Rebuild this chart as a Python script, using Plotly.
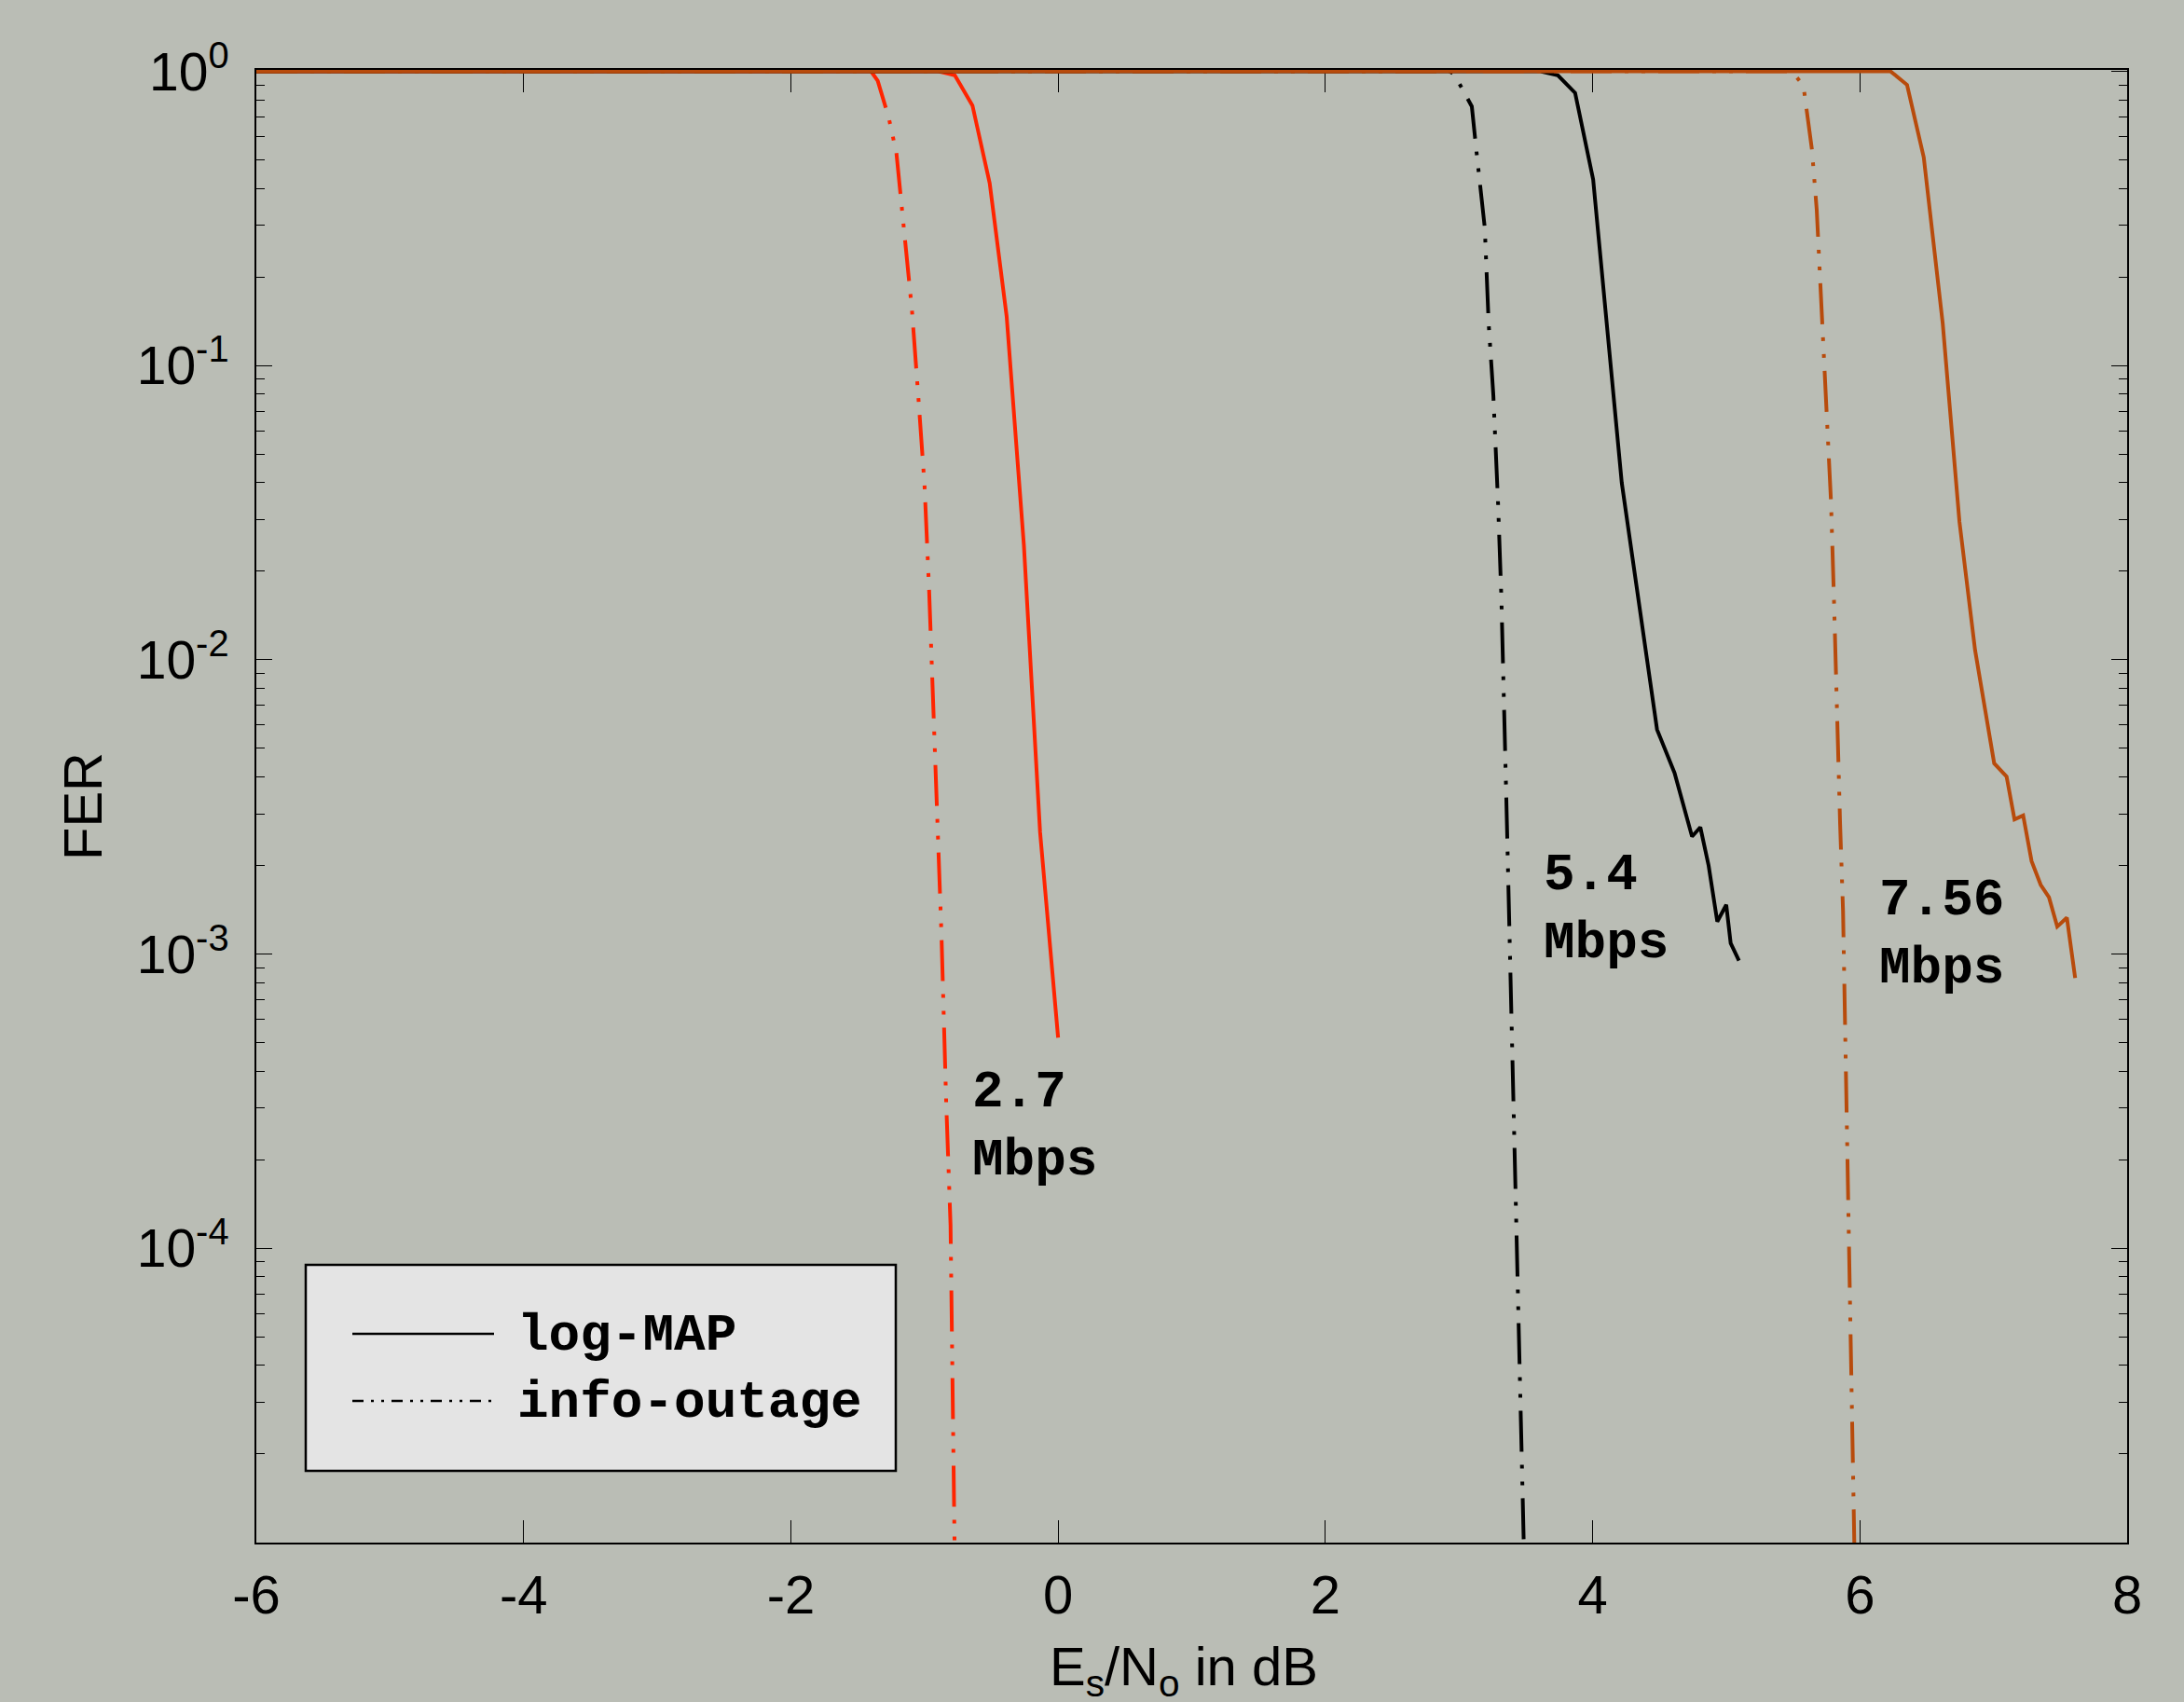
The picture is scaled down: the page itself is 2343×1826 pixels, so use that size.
import math
import plotly.graph_objects as go

# ---------------- data ----------------
x_map_27 = [-6, -0.896, -0.773, -0.641, -0.512, -0.385, -0.256, -0.135, 0.0]
y_map_27 = [1, 1, 0.97, 0.766, 0.417, 0.147, 0.0245, 0.0026, 5.2e-4]

x_out_27 = [-6, -1.40, -1.35, -1.268, -1.21, -1.152, -1.094, -1.047, -1.0, -0.966,
            -0.92, -0.873, -0.838, -0.805, -0.775, -0.765]
y_out_27 = [1, 1, 0.929, 0.698, 0.528, 0.286, 0.155, 0.0794, 0.0395, 0.0176,
            0.00427, 0.00117, 3.18e-4, 1.2e-4, 1e-5, 4e-6]

x_map_54 = [-6, 3.61, 3.74, 3.869, 4.004, 4.218, 4.482, 4.613, 4.744, 4.806,
            4.868, 4.933, 5.0, 5.033, 5.095]
y_map_54 = [1, 1, 0.97, 0.845, 0.429, 0.040, 0.0058, 0.00413, 0.00251, 0.0027,
            0.0020, 0.00129, 0.00147, 0.00109, 9.5e-4]

x_out_54 = [-6, 2.93, 2.965, 3.096, 3.132, 3.193, 3.222, 3.257, 3.292, 3.317,
            3.359, 3.405, 3.452, 3.487, 3.50]
y_out_54 = [1, 1, 0.977, 0.76, 0.528, 0.294, 0.139, 0.0794, 0.0344, 0.0163,
            0.00274, 3.98e-4, 5.71e-5, 1.05e-5, 5e-6]

x_map_756 = [-6, 6.23, 6.353, 6.478, 6.62, 6.745, 6.862, 7.005, 7.098, 7.157,
             7.222, 7.285, 7.353, 7.415, 7.477, 7.549, 7.611]
y_map_756 = [1, 1, 0.90, 0.51, 0.139, 0.0295, 0.0108, 0.00445, 0.00401, 0.00287,
             0.00296, 0.00207, 0.00172, 0.00156, 0.00124, 0.00133, 8.3e-4]

x_out_756 = [-6, 5.49, 5.577, 5.641, 5.677, 5.705, 5.748, 5.784, 5.805, 5.827,
             5.852, 5.874, 5.89, 5.925, 5.96, 5.97]
y_out_756 = [1, 1, 0.897, 0.543, 0.339, 0.183, 0.0794, 0.0344, 0.0167, 0.00646,
             0.00277, 0.0014, 5.75e-4, 1e-4, 1e-5, 5e-6]

x_ticks = [-6, -4, -2, 0, 2, 4, 6, 8]
x_tick_text = ["-6", "-4", "-2", "0", "2", "4", "6", "8"]
y_ticks = [1e-4, 1e-3, 1e-2, 1e-1, 1]
y_tick_text = ["10<sup>-4</sup>", "10<sup>-3</sup>", "10<sup>-2</sup>",
               "10<sup>-1</sup>", "10<sup>0</sup>"]

rate_labels = ["2.7<br>Mbps", "5.4<br>Mbps", "7.56<br>Mbps"]
rate_label_x = [-0.66, 3.62, 6.13]
rate_label_y = [2.6e-4, 1.42e-3, 1.17e-3]

legend_names = ["log-MAP", "info-outage"]

# ---------------- style ----------------
BG = "#babdb5"
RED = "#ff2400"
BLK = "#000000"
ORG = "#b84b0c"
DASHDOT = "44px,14px,4px,14px,4px,14px"
LW = 4
SANS = "Liberation Sans, Arial, Helvetica, sans-serif"
MONO = "Liberation Mono, Courier New, monospace"

W, H = 2343, 1826
L, R, T, B = 275, 61, 75, 171

fig = go.Figure()

def add(x, y, color, dash):
    fig.add_trace(go.Scatter(x=x, y=y, mode="lines",
                             line=dict(color=color, width=LW, dash=dash),
                             showlegend=False, hoverinfo="skip"))

add(x_map_27, y_map_27, RED, "solid")
add(x_out_27, y_out_27, RED, DASHDOT)
add(x_map_54, y_map_54, BLK, "solid")
add(x_out_54, y_out_54, BLK, DASHDOT)
add(x_out_756, y_out_756, ORG, DASHDOT)
add(x_map_756, y_map_756, ORG, "solid")

minor_vals = [k * 10 ** d for d in range(-5, 0) for k in range(2, 10)]

fig.update_xaxes(range=[-6, 8], tickmode="array", tickvals=x_ticks, ticktext=x_tick_text,
                 ticks="inside", ticklen=24, tickwidth=1.2, tickcolor="black",
                 showline=True, linecolor="black", linewidth=2, mirror="ticks",
                 showgrid=False, zeroline=False, layer="below traces",
                 tickfont=dict(family=SANS, size=58, color="black"),
                 ticklabelstandoff=4)
fig.update_yaxes(type="log", range=[-5, 0.005], tickmode="array", tickvals=y_ticks,
                 ticktext=y_tick_text, ticks="inside", ticklen=17, tickwidth=1.2,
                 tickcolor="black", showline=True, linecolor="black", linewidth=2,
                 mirror="ticks", showgrid=False, zeroline=False, layer="below traces",
                 tickfont=dict(family=SANS, size=57, color="black"),
                 ticklabelstandoff=16,
                 minor=dict(tickmode="array", tickvals=minor_vals, ticks="inside",
                            ticklen=9, tickwidth=1.2, tickcolor="black", showgrid=False))

for txt, xx, yy in zip(rate_labels, rate_label_x, rate_label_y):
    fig.add_annotation(x=xx, y=math.log10(yy), yref="y", xref="x",
                       text="<b>" + txt + "</b>",
                       showarrow=False, xanchor="left", yanchor="middle", align="left",
                       font=dict(family=MONO, size=56, color="black"))

# axis titles
pw, ph = W - L - R, H - T - B
def px(xpix):
    return (xpix - L) / pw
def py(ypix):
    return (H - B - ypix) / ph

fig.add_annotation(xref="paper", yref="paper", x=px(88), y=0.5, text="FER",
                   textangle=-90, showarrow=False, xanchor="center", yanchor="middle",
                   font=dict(family=SANS, size=58, color="black"))
fig.add_annotation(xref="paper", yref="paper", x=px(1270), y=py(1792),
                   text="E<sub>s</sub>/N<sub>o</sub> in dB",
                   showarrow=False, xanchor="center", yanchor="middle",
                   font=dict(family=SANS, size=58, color="black"))

# legend box drawn manually
fig.add_shape(type="rect", xref="paper", yref="paper",
              x0=px(328), x1=px(961), y0=py(1578), y1=py(1357),
              line=dict(color="black", width=2.5), fillcolor="#e4e4e4", layer="above")
legend_y = [1431, 1503]
legend_dash = ["solid", "12px,8px,3px,8px,3px,8px"]
for name, ly, dsh in zip(legend_names, legend_y, legend_dash):
    fig.add_shape(type="line", xref="paper", yref="paper", x0=px(378), x1=px(530),
                  y0=py(ly), y1=py(ly), line=dict(color="black", width=2.5, dash=dsh),
                  layer="above")
    fig.add_annotation(xref="paper", yref="paper", x=px(553), y=py(ly + 2),
                       text="<b>" + name + "</b>", showarrow=False,
                       xanchor="left", yanchor="middle",
                       font=dict(family=MONO, size=56, color="black"))

fig.update_layout(width=W, height=H, margin=dict(l=L, r=R, t=T, b=B, pad=0),
                  paper_bgcolor=BG, plot_bgcolor=BG, showlegend=False)

fig.write_html("out.html",
               config={"displayModeBar": False},
               post_script="document.body.style.margin='0';"
                           "document.body.style.background='#babdb5';"
                           "document.body.style.overflow='hidden';")
